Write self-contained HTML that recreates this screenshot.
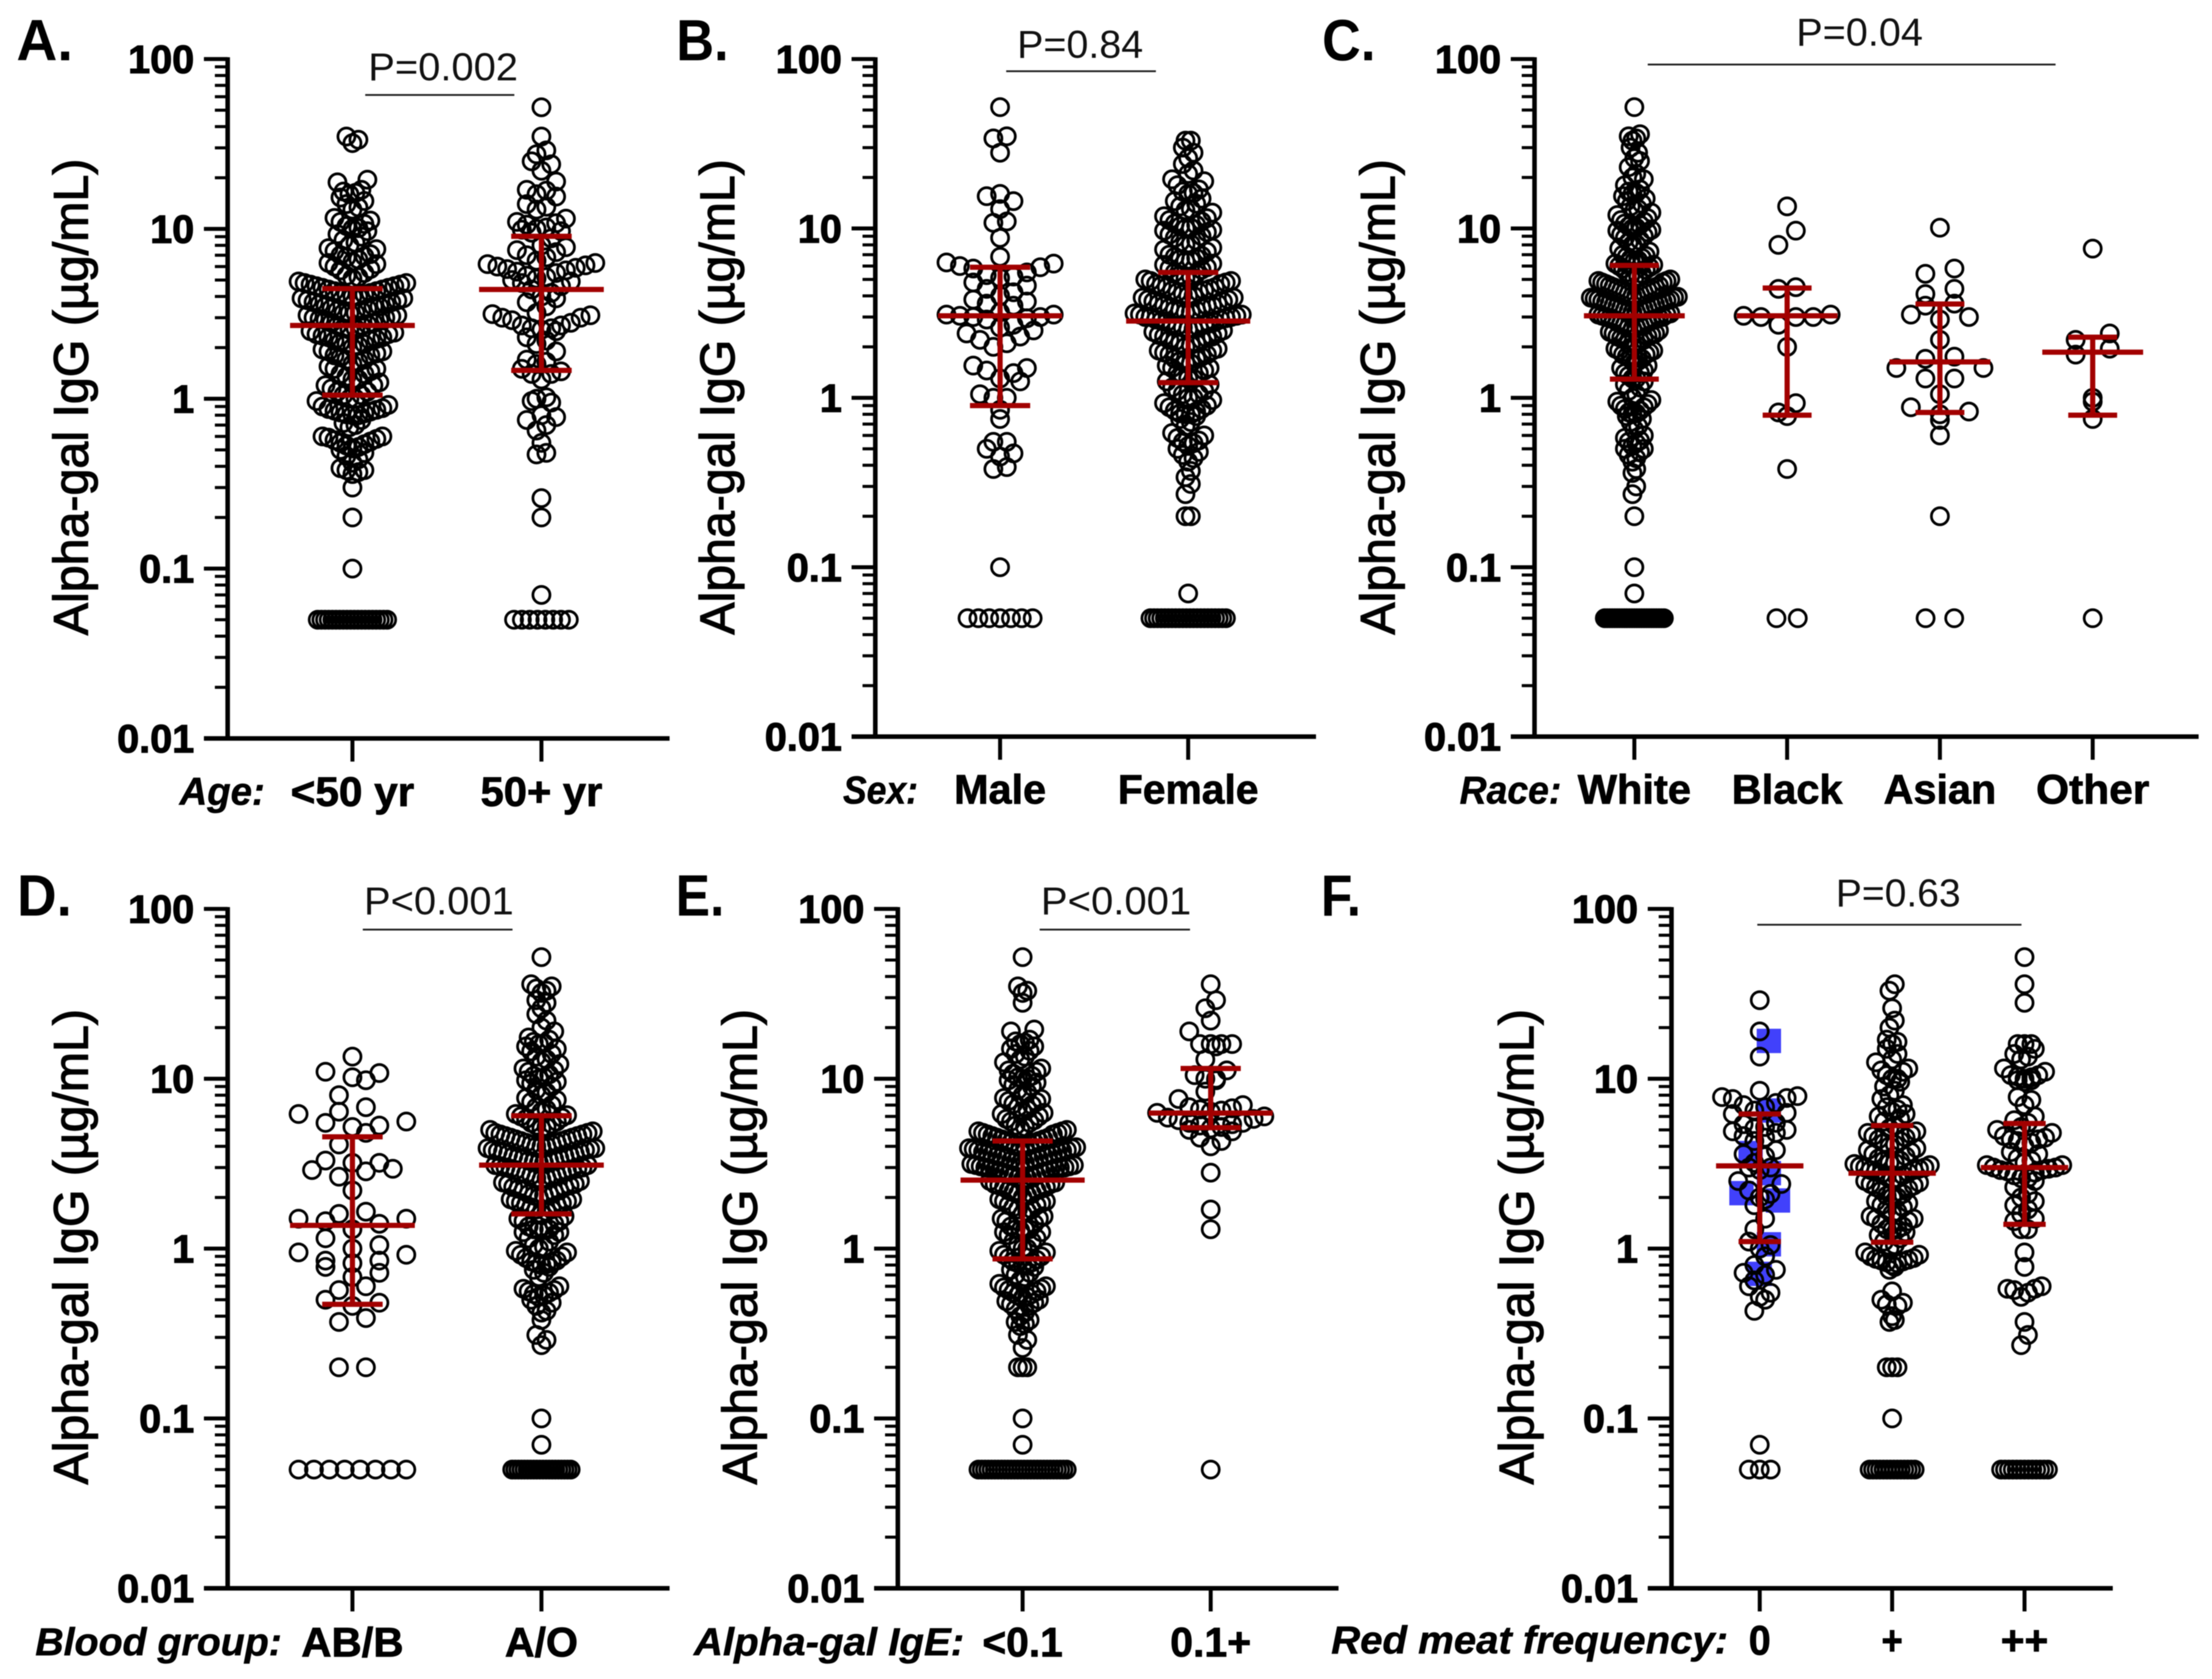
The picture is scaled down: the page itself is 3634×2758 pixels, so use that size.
<!DOCTYPE html>
<html lang="en">
<head>
<meta charset="utf-8">
<title>Alpha-gal IgG by subgroup</title>
<style>
html,body{margin:0;padding:0;background:#fff;}
svg{display:block;filter:blur(0.7px);}
text{font-family:"Liberation Sans",Arial,sans-serif;fill:#000;}
.letter{font-weight:bold;font-size:96px;}
.ytitle{font-size:80px;stroke:#000;stroke-width:1.8px;}
.pval{font-size:64px;fill:#111;}
.prefix{font-weight:bold;font-style:italic;font-size:64px;stroke:#000;stroke-width:0.8px;}
.cat{font-weight:bold;font-size:68px;stroke:#000;stroke-width:1.2px;}
.ytick{font-weight:bold;font-size:65px;stroke:#000;stroke-width:1.6px;}
</style>
</head>
<body>
<svg id="fig" xmlns="http://www.w3.org/2000/svg" width="3634" height="2758" viewBox="0 0 3634 2758">
<rect width="3634" height="2758" fill="#fff"/>

<g id="panelA">
<text class="letter" x="27" y="99" textLength="93" lengthAdjust="spacingAndGlyphs">A.</text>
<text class="ytitle" transform="translate(144,652) rotate(-90)" text-anchor="middle" textLength="783" lengthAdjust="spacingAndGlyphs">Alpha-gal IgG (µg/mL)</text>
<text class="pval" x="605" y="132" textLength="246" lengthAdjust="spacingAndGlyphs">P=0.002</text>
<line x1="600" x2="845" y1="156" y2="156" stroke="#222" stroke-width="3"/>
<text class="prefix" x="295" y="1322" textLength="140" lengthAdjust="spacingAndGlyphs">Age:</text>
</g>

<g id="panelB">
<text class="letter" x="1111" y="99" textLength="86" lengthAdjust="spacingAndGlyphs">B.</text>
<text class="ytitle" transform="translate(1206,652) rotate(-90)" text-anchor="middle" textLength="781" lengthAdjust="spacingAndGlyphs">Alpha-gal IgG (µg/mL)</text>
<text class="pval" x="1671" y="95" textLength="207" lengthAdjust="spacingAndGlyphs">P=0.84</text>
<line x1="1653" x2="1899" y1="117" y2="117" stroke="#222" stroke-width="3"/>
<text class="prefix" x="1385" y="1320" textLength="123" lengthAdjust="spacingAndGlyphs">Sex:</text>
</g>

<g id="panelC">
<text class="letter" x="2172" y="99" textLength="88" lengthAdjust="spacingAndGlyphs">C.</text>
<text class="ytitle" transform="translate(2291,652) rotate(-90)" text-anchor="middle" textLength="781" lengthAdjust="spacingAndGlyphs">Alpha-gal IgG (µg/mL)</text>
<text class="pval" x="2951" y="75" textLength="208" lengthAdjust="spacingAndGlyphs">P=0.04</text>
<line x1="2707" x2="3377" y1="106" y2="106" stroke="#222" stroke-width="3"/>
<text class="prefix" x="2398" y="1320" textLength="167" lengthAdjust="spacingAndGlyphs">Race:</text>
</g>

<g id="panelD">
<text class="letter" x="28" y="1504" textLength="90" lengthAdjust="spacingAndGlyphs">D.</text>
<text class="ytitle" transform="translate(144,2048) rotate(-90)" text-anchor="middle" textLength="781" lengthAdjust="spacingAndGlyphs">Alpha-gal IgG (µg/mL)</text>
<text class="pval" x="598" y="1502" textLength="246" lengthAdjust="spacingAndGlyphs">P&lt;0.001</text>
<line x1="596" x2="842" y1="1527" y2="1527" stroke="#222" stroke-width="3"/>
<text class="prefix" x="58" y="2719" textLength="405" lengthAdjust="spacingAndGlyphs">Blood group:</text>
</g>

<g id="panelE">
<text class="letter" x="1110" y="1504" textLength="80" lengthAdjust="spacingAndGlyphs">E.</text>
<text class="ytitle" transform="translate(1243,2048) rotate(-90)" text-anchor="middle" textLength="781" lengthAdjust="spacingAndGlyphs">Alpha-gal IgG (µg/mL)</text>
<text class="pval" x="1710" y="1502" textLength="247" lengthAdjust="spacingAndGlyphs">P&lt;0.001</text>
<line x1="1708" x2="1955" y1="1527" y2="1527" stroke="#222" stroke-width="3"/>
<text class="prefix" x="1140" y="2719" textLength="444" lengthAdjust="spacingAndGlyphs">Alpha-gal IgE:</text>
</g>

<g id="panelF">
<text class="letter" x="2170" y="1504" textLength="66" lengthAdjust="spacingAndGlyphs">F.</text>
<text class="ytitle" transform="translate(2519,2048) rotate(-90)" text-anchor="middle" textLength="781" lengthAdjust="spacingAndGlyphs">Alpha-gal IgG (µg/mL)</text>
<text class="pval" x="3016" y="1489" textLength="205" lengthAdjust="spacingAndGlyphs">P=0.63</text>
<line x1="2887" x2="3321" y1="1519" y2="1519" stroke="#222" stroke-width="3"/>
<text class="prefix" x="2187" y="2716" textLength="652" lengthAdjust="spacingAndGlyphs">Red meat frequency:</text>
</g>
</svg>

<script>
// ---- shared axis data ----
const yTickValues = [100, 10, 1, 0.1, 0.01];
const yTickLabels = ['100', '10', '1', '0.1', '0.01'];
const minorMultipliers = [2, 3, 4, 5, 6, 7, 8, 9];
const floorValue = 0.05;

// ---- panel A: age ----
const categoriesA = ['<50 yr', '50+ yr'];
const mediansA = [2.7, 4.4];
const lowerA = [1.05, 1.47];
const upperA = [4.45, 9.05];
const floorCountsA = [20, 8];
const ageUnder50 = [35,33.5,32,19.5,18.8,17,16.6,16.3,16,15.3,14.6,14,13.4,13,11.6,11.2,11,10.7,10.4,10.1,10,9.7,9.3,9,8.6,8.3,8,7.7,7.6,7.4,7.1,7,6.9,6.8,6.6,6.4,6.3,6.2,6,5.8,5.7,5.5,5.3,5.2,5.1,
4.9,4.8,4.8,4.7,4.7,4.6,4.6,4.5,4.5,4.4,4.4,4.3,4.3,4.2,4.2,4.1,4.1,4,4,3.9,3.9,3.8,3.8,3.7,3.7,3.6,3.6,3.5,3.5,3.5,3.4,3.4,3.3,3.3,3.2,3.2,3.2,3.1,3.1,3.05,3,3,2.95,2.9,2.9,2.8,2.8,2.75,2.7,2.7,2.6,2.6,2.55,2.5,2.45,2.4,2.4,2.35,2.3,2.3,2.25,2.2,2.2,2.15,2.1,2.1,2.05,2,1.95,1.9,1.9,1.85,1.8,1.8,1.75,1.7,1.7,1.65,1.6,1.55,1.5,1.5,1.45,1.4,1.4,1.35,1.3,1.3,1.25,1.2,1.2,1.15,1.1,1.1,1.05,1.05,1,1,0.97,0.92,0.9,0.88,0.87,0.86,0.85,0.84,0.83,0.82,0.81,0.8,0.8,0.75,0.72,0.7,0.68,0.6,0.6,0.59,0.58,0.57,0.56,0.55,0.54,0.53,0.52,0.51,0.5,0.48,0.46,0.44,0.42,0.39,0.38,0.38,0.37,0.36,0.3,0.2,0.1];
const age50Plus = [52,35,29,27.5,25,24,22,19,17,16.8,16,15.5,14,13.5,13,11.5,11,10.8,10.6,10.2,10,9.9,9.7,9.5,8.8,8,7.8,7.5,7.3,7,6.8,6.5,6.3,6.2,6.1,6,5.9,5.8,5.7,5.6,5.5,5.3,5.2,5.1,5,4.9,4.8,4.6,4.4,4.2,4,3.9,3.7,3.5,3.2,3.15,3.1,3,3,2.9,2.8,2.7,2.7,2.6,2.6,2.55,2.5,2.3,2.2,2.1,1.9,1.7,1.65,1.6,1.5,1.45,1.4,1.4,1.3,1.02,1,0.97,0.95,0.8,0.78,0.75,0.7,0.65,0.55,0.48,0.47,0.26,0.2,0.07];

// ---- panel B: sex ----
const categoriesB = ['Male', 'Female'];
const mediansB = [3.05, 2.84];
const lowerB = [0.9, 1.23];
const upperB = [5.9, 5.5];
const floorCountsB = [7, 22];
const sexMale = [52,35,34,28,16,15.5,14.5,13,11,10.8,8.8,6.8,6.3,6.2,6,5.9,5.8,5.5,5.3,5.2,5.1,4.8,4.6,4.4,4.2,4,3.8,3.7,3.6,3.5,3.2,3.1,3.1,3.05,3,3,2.95,2.9,2.7,2.6,2.5,2.4,2.3,2.2,2.1,2,1.55,1.5,1.45,1.4,1.3,1.25,1.05,1,1,0.85,0.75,0.55,0.55,0.5,0.47,0.45,0.39,0.38,0.1];
const sexFemale = [33,33,30,28,26,24,22,21,19.5,19,18,17,16.5,16.2,16,15,14.5,14,13.5,13,12.8,12.4,11.8,11.5,11.2,11,10.7,10.5,10.3,10.1,10,9.8,9.7,9.5,9.2,9,8.8,8.5,8.3,8.1,8,7.7,7.5,7.3,7,6.9,6.8,6.7,6.6,6.5,6.4,6.2,6.1,5.9,5.8,5.7,5.5,5.4,5.3,5.2,5.1,5,
4.9,4.9,4.8,4.7,4.7,4.6,4.5,4.5,4.4,4.3,4.3,4.2,4.2,4.1,4,4,3.9,3.9,3.8,3.8,3.7,3.7,3.6,3.6,3.5,3.5,3.5,3.4,3.4,3.3,3.3,3.3,3.2,3.2,3.15,3.1,3.1,3.05,3,3,3,2.95,2.9,2.9,2.85,2.8,2.8,2.75,2.7,2.7,2.65,2.6,2.6,2.55,2.55,2.5,2.45,2.4,2.35,2.3,2.3,2.25,2.2,2.2,2.15,2.1,2.1,2.05,2,1.95,1.9,1.9,1.85,1.8,1.8,1.75,1.7,1.7,1.65,1.6,1.6,1.55,1.5,1.5,1.45,1.4,1.4,1.35,1.3,1.3,1.25,1.2,1.15,1.1,1.1,1.05,1.05,1,1,0.97,0.93,0.9,0.88,0.86,0.84,0.83,0.81,0.8,0.8,0.78,0.75,0.72,0.68,0.62,0.6,0.58,0.56,0.55,0.54,0.52,0.5,0.48,0.46,0.44,0.42,0.37,0.34,0.31,0.27,0.2,0.2,0.07];

// ---- panel C: race ----
const categoriesC = ['White', 'Black', 'Asian', 'Other'];
const mediansC = [3.05, 3.05, 1.63, 1.86];
const lowerC = [1.29, 0.79, 0.82, 0.79];
const upperC = [6.05, 4.45, 3.58, 2.28];
const floorCountsC = [25, 2, 2, 1];
const raceWhite = [52,36,35,34,33,30,28,26,25,23,21,20,19.5,18,17,16.5,16.2,16,15.5,15,14.5,14,13.5,13,12.8,12.4,12,11.5,11.2,11,10.7,10.5,10.3,10.1,10,9.8,9.7,9.5,9.2,9,8.8,8.5,8.3,8.1,8,7.6,7.3,7,6.9,6.8,6.7,6.6,6.5,6.4,6.2,6.1,6,5.9,5.8,5.7,5.5,5.4,5.3,5.2,5.1,5,
4.9,4.9,4.8,4.8,4.7,4.6,4.6,4.5,4.5,4.4,4.4,4.3,4.3,4.2,4.2,4.1,4.1,4,4,3.95,3.9,3.9,3.85,3.8,3.8,3.75,3.7,3.7,3.65,3.6,3.6,3.55,3.5,3.5,3.45,3.4,3.4,3.35,3.3,3.3,3.25,3.2,3.2,3.15,3.1,3.1,3.05,3,3,2.97,2.95,2.9,2.9,2.85,2.8,2.8,2.75,2.7,2.7,2.65,2.6,2.6,2.55,2.5,2.45,2.4,2.4,2.35,2.3,2.3,2.25,2.2,2.2,2.15,2.1,2.05,2,1.95,1.9,1.9,1.85,1.8,1.8,1.75,1.7,1.7,1.65,1.6,1.55,1.5,1.45,1.4,1.4,1.35,1.3,1.3,1.25,1.2,1.15,1.1,1.05,1,0.97,0.95,0.92,0.9,0.88,0.86,0.84,0.82,0.81,0.8,0.78,0.75,0.72,0.68,0.65,0.6,0.58,0.56,0.55,0.54,0.52,0.5,0.5,0.48,0.46,0.44,0.42,0.38,0.36,0.3,0.27,0.2,0.1,0.07];
const raceBlack = [13.5,9.7,8,4.5,4.4,3.1,3.05,3,3,3,2.7,2,0.93,0.82,0.78,0.38];
const raceAsian = [10.1,5.8,5.4,4.4,4.1,3.6,3.5,3.1,3,2.9,2.2,1.75,1.7,1.5,1.5,1.3,1.3,1.05,0.88,0.83,0.8,0.74,0.6,0.2];
const raceOther = [7.6,2.4,2.2,1.95,1.8,1,0.95,0.75];

// ---- panel D: blood group ----
const categoriesD = ['AB/B', 'A/O'];
const mediansD = [1.37, 3.1];
const lowerD = [0.47, 1.6];
const upperD = [4.55, 6.06];
const floorCountsD = [8, 20];
const bloodABB = [13.5,11,10.8,10.2,9.8,8,6.8,6.4,6.2,5.6,5.5,5.3,5.2,4.8,4.1,3.3,3.2,3.2,2.95,2.9,2.85,2.65,2.2,1.65,1.6,1.5,1.5,1.45,1.4,1.3,1.15,1.05,1,0.95,0.92,0.85,0.85,0.82,0.78,0.72,0.68,0.6,0.57,0.5,0.48,0.46,0.39,0.37,0.2,0.2];
const bloodAO = [52,36,35,34,33,32,29,28,26,24,22,20,19,17.5,17,16.5,16.2,16,15.5,15,14.5,14,13.5,13,12.6,12.2,11.5,11.2,11,10.6,10.4,10.2,10,9.8,9.6,9.4,9,8.6,8.3,8,7.7,7.5,7.3,7,6.8,6.6,6.4,6.2,6.1,6,5.9,5.8,5.6,5.5,5.4,5.3,5.2,5.1,5,
4.9,4.8,4.8,4.7,4.7,4.6,4.6,4.5,4.5,4.4,4.4,4.3,4.3,4.2,4.2,4.1,4.1,4,4,4,3.9,3.9,3.85,3.8,3.8,3.75,3.7,3.7,3.6,3.6,3.55,3.5,3.5,3.45,3.4,3.4,3.35,3.3,3.3,3.25,3.2,3.2,3.1,3.1,3.05,3,3,2.95,2.95,2.9,2.9,2.85,2.8,2.8,2.75,2.7,2.7,2.65,2.6,2.6,2.55,2.5,2.45,2.4,2.4,2.35,2.3,2.3,2.25,2.2,2.2,2.15,2.1,2.1,2.05,2.05,2,1.95,1.95,1.9,1.9,1.85,1.85,1.8,1.8,1.75,1.7,1.7,1.65,1.6,1.55,1.5,1.45,1.45,1.4,1.35,1.3,1.3,1.3,1.28,1.25,1.25,1.2,1.15,1.1,1.05,1.02,1,0.97,0.95,0.92,0.9,0.88,0.85,0.84,0.83,0.82,0.81,0.8,0.78,0.75,0.72,0.68,0.6,0.58,0.57,0.56,0.55,0.54,0.53,0.52,0.5,0.48,0.46,0.43,0.42,0.38,0.31,0.29,0.27,0.1,0.07];

// ---- panel E: alpha-gal IgE ----
const categoriesE = ['<0.1', '0.1+'];
const mediansE = [2.53, 6.28];
const lowerE = [0.87, 5.15];
const upperE = [4.3, 11.5];
const floorCountsE = [28, 1];
const igeLow = [52,35,33,32,28,19.5,19,17,16.6,16.3,16,15.5,15,14.6,14,13.5,13,12.5,11.5,11.2,11,10.7,10.4,10.2,10,10,9.8,9.5,9.2,9,8.6,8.3,8,7.7,7.6,7.4,7.3,7.1,7,6.8,6.6,6.4,6.3,6.2,6,5.8,5.7,5.6,5.5,5.3,5.2,5.1,5,
4.9,4.9,4.8,4.8,4.7,4.7,4.6,4.5,4.5,4.4,4.4,4.3,4.3,4.2,4.2,4.1,4.1,4,4,3.95,3.9,3.9,3.85,3.8,3.8,3.75,3.7,3.7,3.65,3.6,3.6,3.55,3.5,3.5,3.45,3.4,3.4,3.35,3.3,3.3,3.25,3.2,3.2,3.15,3.1,3.1,3.05,3.05,3,3,3,2.97,2.95,2.9,2.9,2.87,2.85,2.8,2.8,2.75,2.7,2.7,2.65,2.6,2.6,2.55,2.5,2.45,2.4,2.4,2.35,2.3,2.3,2.25,2.2,2.2,2.15,2.1,2.1,2.05,2,1.95,1.9,1.9,1.85,1.8,1.8,1.75,1.7,1.7,1.65,1.6,1.55,1.5,1.5,1.45,1.4,1.35,1.3,1.3,1.3,1.28,1.25,1.25,1.2,1.15,1.1,1.1,1.05,1,1,0.97,0.95,0.92,0.9,0.88,0.86,0.84,0.83,0.82,0.81,0.8,0.78,0.75,0.72,0.7,0.68,0.65,0.62,0.6,0.59,0.58,0.57,0.56,0.55,0.54,0.53,0.52,0.51,0.5,0.49,0.48,0.47,0.46,0.44,0.42,0.4,0.38,0.37,0.36,0.35,0.31,0.29,0.26,0.2,0.2,0.2,0.1,0.07];
const igeHigh = [36,29,26,22,19,16,16,16,16,15.5,13,11.2,10.5,10,10,9.8,8.4,7.6,7,6.8,6.7,6.6,6.5,6.4,6.3,6,5.9,5.8,5.7,5.5,5.5,5.4,5.3,5.2,5.1,5,4.9,4.5,4.3,4,2.8,1.7,1.3];

// ---- panel F: red meat frequency ----
const categoriesF = ['0', '+', '++'];
const mediansF = [3.07, 2.78, 3];
const lowerF = [1.1, 1.09, 1.39];
const upperF = [6.2, 5.3, 5.45];
const floorCountsF = [3, 14, 13];
const meatNone = [29,19,13.5,8.5,7.9,7.8,7.7,7.6,7.2,7,6.8,6.5,6.3,6.2,5.5,5.4,5.2,5.1,5,4.9,4.8,4.6,4.5,4.3,3.8,3.6,3.5,3.2,3,3,2.9,2.5,2.4,2.2,2.1,2,1.95,1.8,1.5,1.3,1.1,1.05,1,0.9,0.8,0.75,0.72,0.7,0.65,0.6,0.55,0.52,0.5,0.43,0.07];
const meatSome = [36,33,26,22,20,17,16.5,16,15,14,13,12.5,11.5,11.2,11,10.5,10,10,9.6,9,8.5,8,7.6,7,6.8,6.6,6.4,6.2,6,5.8,5.6,5.3,5.1,4.9,4.8,4.7,4.6,4.5,4.4,4.3,4.2,4.1,4,3.9,3.8,3.7,3.6,3.5,3.4,3.3,3.3,3.2,3.2,3.15,3.1,3.05,3,3,2.95,2.9,2.9,2.85,2.8,2.75,2.7,2.65,2.6,2.55,2.5,2.45,2.4,2.35,2.3,2.25,2.2,2.1,2.05,2,2,1.9,1.85,1.8,1.75,1.7,1.65,1.6,1.55,1.5,1.5,1.45,1.4,1.35,1.3,1.3,1.28,1.25,1.2,1.15,1.1,1.05,1,0.95,0.92,0.9,0.88,0.87,0.86,0.85,0.84,0.83,0.82,0.8,0.78,0.75,0.56,0.5,0.48,0.47,0.46,0.4,0.38,0.37,0.2,0.2,0.2,0.1];
const meatFrequent = [52,36,28,16,16,16,15,14,13.5,13,11.5,11,10.5,10.5,10.3,10.2,10,9.8,9.8,9.6,7.8,7.5,7,6,5.7,5.5,5.2,5,4.8,4.6,4.5,4.4,4.4,4.3,4.2,4,3.7,3.6,3.4,3.3,3.2,3.1,3.1,3,3,2.95,2.9,2.9,2.85,2.8,2.7,2.6,2.6,2.5,2.3,2.1,2,1.9,1.8,1.7,1.6,1.5,1.45,1.3,1.3,0.95,0.78,0.6,0.58,0.58,0.57,0.55,0.52,0.37,0.31,0.27];
const blueSquareValues = [16.7, 6.5, 3.65, 2.78, 2.12, 1.92, 1.06, 0.71];
const blueSquareSlots = [1, 1, -1, 1, -2, 2, 1, 0];

// ---- layout (pixels / styles, no data) ----
const panels = [
 {id:'panelA', key:'a', axisX:374, y100:97, y001:1213, right:1100, tick0:579, band:310.5, labelY:1324,
  cats:categoriesA, groups:[ageUnder50, age50Plus], floors:floorCountsA, meds:mediansA, lo:lowerA, hi:upperA,
  floorSpans:[114,90], catW:[203,200]},
 {id:'panelB', key:'b', axisX:1438, y100:97, y001:1210, right:2162, tick0:1643, band:309, labelY:1320,
  cats:categoriesB, groups:[sexMale, sexFemale], floors:floorCountsB, meds:mediansB, lo:lowerB, hi:upperB,
  floorSpans:[107,124], catW:[151,231]},
 {id:'panelC', key:'c', axisX:2521, y100:97, y001:1210, right:3612, tick0:2685, band:251, labelY:1320,
  cats:categoriesC, groups:[raceWhite, raceBlack, raceAsian, raceOther], floors:floorCountsC, meds:mediansC, lo:lowerC, hi:upperC,
  floorSpans:[97,35,47,0], catW:[186,182,185,186]},
 {id:'panelD', key:'d', axisX:374, y100:1493, y001:2609, right:1100, tick0:579, band:310.5, labelY:2721,
  cats:categoriesD, groups:[bloodABB, bloodAO], floors:floorCountsD, meds:mediansD, lo:lowerD, hi:upperD,
  floorSpans:[177,96], catW:[168,120]},
 {id:'panelE', key:'e', axisX:1475, y100:1493, y001:2609, right:2199, tick0:1680, band:309, labelY:2721,
  cats:categoriesE, groups:[igeLow, igeHigh], floors:floorCountsE, meds:mediansE, lo:lowerE, hi:upperE,
  floorSpans:[145,0], catW:[132,133]},
 {id:'panelF', key:'f', axisX:2746, y100:1493, y001:2609, right:3471, tick0:2891, band:217.5, labelY:2718,
  cats:categoriesF, groups:[meatNone, meatSome, meatFrequent], floors:floorCountsF, meds:mediansF, lo:lowerF, hi:upperF,
  floorSpans:[36,74,77], catW:[36,35,78]}
];
const NS = 'http://www.w3.org/2000/svg';
const RED = '#a20000';
const BIN_DECADES = 0.1;
const DOT_R = 14;
const DOT_W = 4.5;

function make(parent, tag, attrs, text) {
  const el = document.createElementNS(NS, tag);
  for (const k in attrs) el.setAttribute(k, attrs[k]);
  if (text !== undefined) el.textContent = text;
  parent.appendChild(el);
  return el;
}

function swarm(values, span, capStep) {
  const bins = new Map();
  values.forEach(function (v) {
    const b = Math.floor(Math.log10(v) / BIN_DECADES + 1e-6);
    if (!bins.has(b)) bins.set(b, []);
    bins.get(b).push(v);
  });
  let maxCount = 1;
  bins.forEach(function (list) { maxCount = Math.max(maxCount, list.length); });
  const step = maxCount > 1 ? Math.min(capStep, span / (maxCount - 1)) : capStep;
  const out = [];
  bins.forEach(function (list) {
    list.sort(function (a, b) { return a - b; });
    const n = list.length;
    // centre-out slots so neighbouring ranks land on alternating sides
    list.forEach(function (v, i) {
      const rank = Math.ceil((i + 1) / 2) * (i % 2 ? 1 : -1);
      let off;
      if (n % 2) off = i === 0 ? 0 : (i % 2 ? Math.ceil(i / 2) : -Math.ceil(i / 2));
      else off = rank > 0 ? rank - 0.5 : rank + 0.5;
      out.push({ v: v, off: off * step });
    });
  });
  return { pts: out, step: step };
}

function drawPanel(p) {
  const g = document.getElementById(p.id);
  const decade = (p.y001 - p.y100) / 4;
  const yScale = function (v) { return p.y100 + (2 - Math.log10(v)) * decade; };
  const xScale = function (i) { return p.tick0 + i * p.band; };
  const swarmSpan = 0.57 * p.band;
  const medHalf = 0.33 * p.band;
  const capHalf = 0.16 * p.band;

  // y axis line and ticks
  const yAxis = make(g, 'line', { x1: p.axisX, x2: p.axisX, y1: p.y100 - 3, y2: p.y001 + 3, stroke: '#000', 'stroke-width': 7.5 });
  
  
  const xAxis = make(g, 'line', { x1: p.axisX - 39, x2: p.right, y1: p.y001, y2: p.y001, stroke: '#000', 'stroke-width': 7.5 });
  
  

  yTickValues.forEach(function (tv, i) {
    const y = yScale(tv);
    if (i < yTickValues.length - 1) {
      const major = make(g, 'line', { x1: p.axisX - 39, x2: p.axisX, y1: y, y2: y, stroke: '#000', 'stroke-width': 6.5 });
      
      
    }
    const lab = make(g, 'text', { class: 'ytick', x: p.axisX - 55, y: y + 23, 'text-anchor': 'end' }, yTickLabels[i]);
    
    
    if (i < yTickValues.length - 1) {
      minorMultipliers.forEach(function (m) {
        const my = yScale(tv / 10 * m);
        const minor = make(g, 'line', { x1: p.axisX - 21, x2: p.axisX, y1: my, y2: my, stroke: '#000', 'stroke-width': 5 });
        
        
      });
    }
  });

  // categories
  p.cats.forEach(function (c, i) {
    const x = xScale(i);
    const t = make(g, 'line', { x1: x, x2: x, y1: p.y001, y2: p.y001 + 38, stroke: '#000', 'stroke-width': 6.5 });
    
    
    const lab = make(g, 'text', { class: 'cat', x: x, y: p.labelY, 'text-anchor': 'middle', textLength: p.catW[i], lengthAdjust: 'spacingAndGlyphs' }, c);
    
    
  });

  // blue squares sit behind the open circles in panel F
  if (p.key === 'f') {
    blueSquareValues.forEach(function (v, i) {
      const sq = make(g, 'rect', { x: xScale(0) + blueSquareSlots[i] * 15 - 20, y: yScale(v) - 20, width: 40, height: 40, fill: '#4141fb' });
      
      
    });
  }

  // points
  p.groups.forEach(function (values, gi) {
    const cx = xScale(gi);
    const layout = swarm(values, swarmSpan, 56);
    layout.pts.forEach(function (pt) {
      const c = make(g, 'circle', { cx: cx + pt.off, cy: yScale(pt.v), r: DOT_R, fill: 'none', stroke: '#000', 'stroke-width': DOT_W });
      
      
    });
    const nf = p.floors[gi];
    const fStep = nf > 1 ? p.floorSpans[gi] / (nf - 1) : 0;
    for (let k = 0; k < nf; k++) {
      const c = make(g, 'circle', { cx: cx + (k - (nf - 1) / 2) * fStep, cy: yScale(floorValue), r: DOT_R, fill: 'none', stroke: '#000', 'stroke-width': DOT_W });
      
      
    }
  });

  // median and IQR bars on top
  p.groups.forEach(function (values, gi) {
    const cx = xScale(gi);
    const stem = make(g, 'line', { x1: cx, x2: cx, y1: yScale(p.hi[gi]), y2: yScale(p.lo[gi]), stroke: RED, 'stroke-width': 8.5 });
    
    
    const hi = make(g, 'line', { x1: cx - capHalf, x2: cx + capHalf, y1: yScale(p.hi[gi]), y2: yScale(p.hi[gi]), stroke: RED, 'stroke-width': 8.5 });
    
    
    const lo = make(g, 'line', { x1: cx - capHalf, x2: cx + capHalf, y1: yScale(p.lo[gi]), y2: yScale(p.lo[gi]), stroke: RED, 'stroke-width': 8.5 });
    
    
    const med = make(g, 'line', { x1: cx - medHalf, x2: cx + medHalf, y1: yScale(p.meds[gi]), y2: yScale(p.meds[gi]), stroke: RED, 'stroke-width': 8.5 });
    
    
  });
}

panels.forEach(drawPanel);
</script>
</body>
</html>
